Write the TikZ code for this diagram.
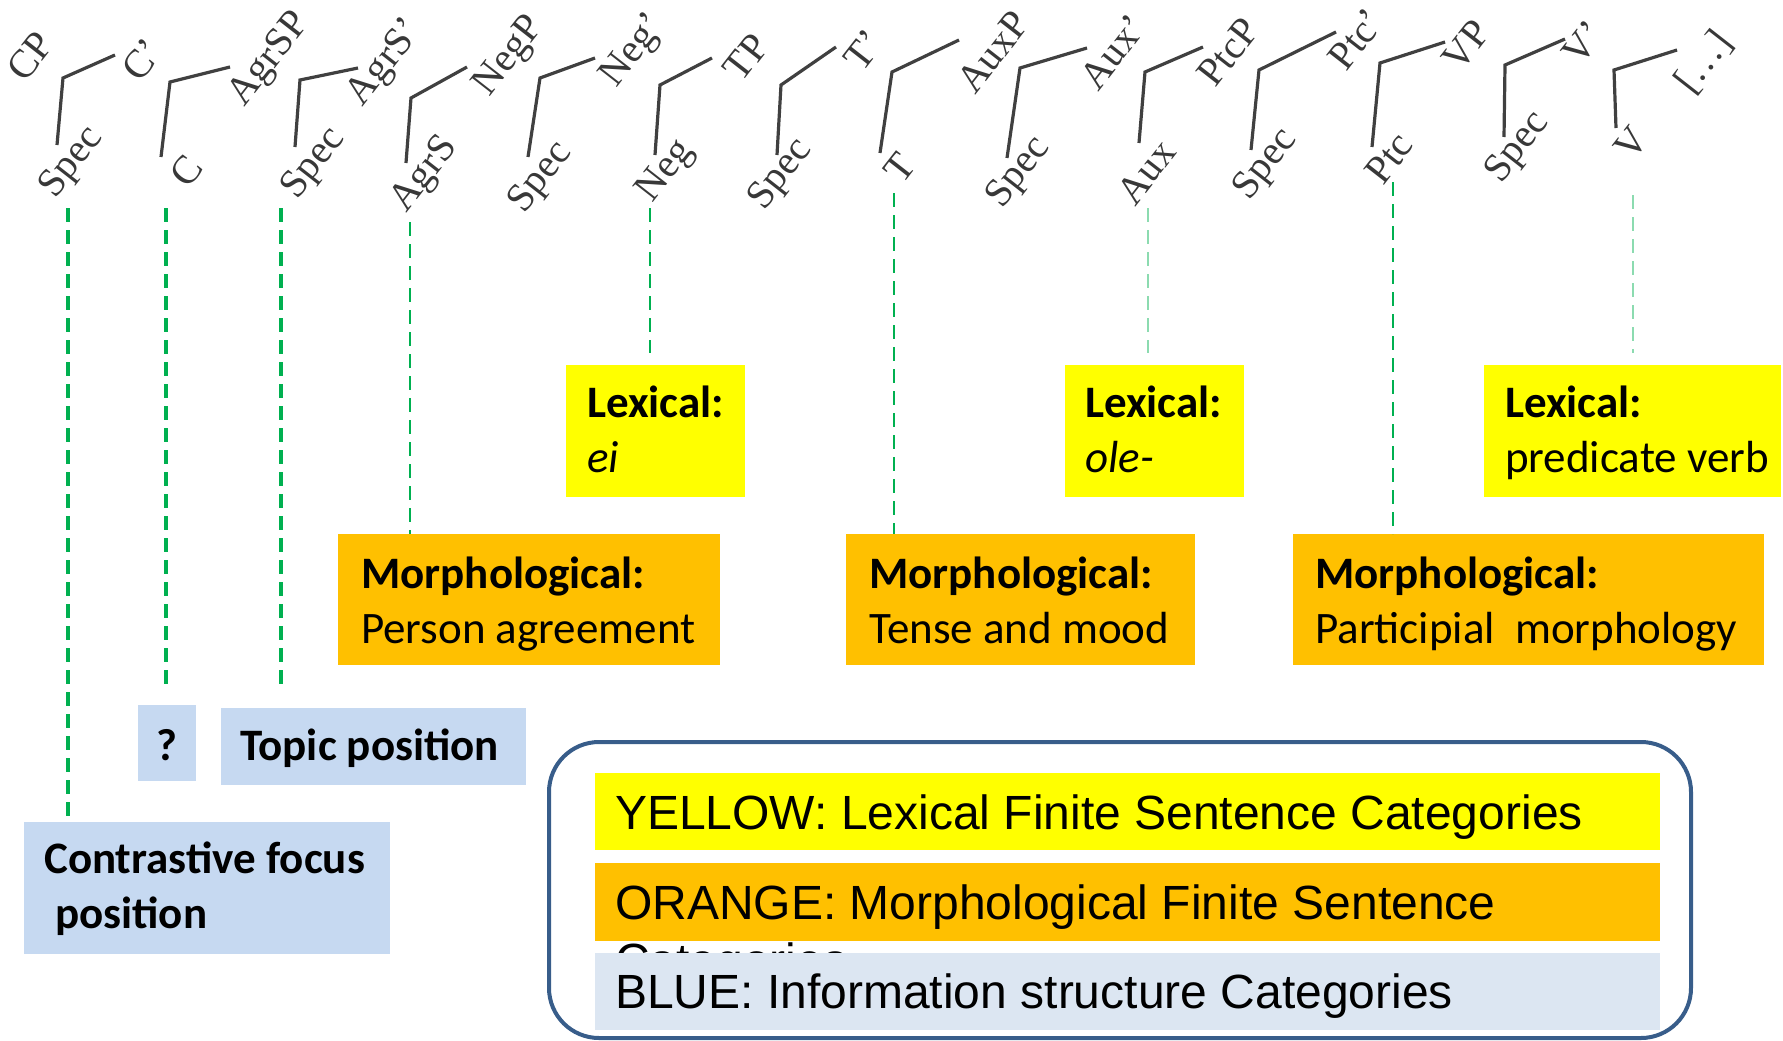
\documentclass[tikz,border=0pt]{standalone}
\usepackage{fontspec}
\setmainfont{Liberation Serif}
\newfontfamily\boxfont{Carlito}
\newfontfamily\legfont{Liberation Sans}
\definecolor{lexyellow}{RGB}{255,255,0}
\definecolor{morphorange}{RGB}{255,192,0}
\definecolor{infoblue}{RGB}{198,217,241}
\definecolor{legblue}{RGB}{220,230,242}
\definecolor{legborder}{RGB}{56,93,138}
\definecolor{guide}{RGB}{0,176,80}
\begin{document}
\begin{tikzpicture}[x=1pt,y=-1pt,
  treelab/.style={font=\fontsize{40}{40}\selectfont, text=black!78, rotate=52, inner sep=0pt},
  branch/.style={draw=black!75, line width=3.2pt},
  guideline/.style={draw=guide, line width=3.2pt, dash pattern=on 14pt off 8pt},
  thinguide/.style={guideline, line width=2.6pt},
  faintguide/.style={thinguide, draw opacity=0.45},
  catbox/.style={anchor=north west, inner sep=0pt, outer sep=0pt},
  boxtext/.style={anchor=base west, inner sep=0pt, font=\boxfont\fontsize{45}{54}\selectfont},
  legtext/.style={anchor=base west, inner sep=0pt, font=\legfont\fontsize{48}{58}\selectfont},
]
\useasboundingbox (0,0) rectangle (1783,1041);

% ---- rotated syntactic spine ----
\node[treelab] (cp)    at (30,56)   {CP};
\node[treelab] (spec1) at (72,163)  {Spec};
\draw[branch] (57,145) -- (63,78) -- (115,55);
\node[treelab] (cbar)  at (142,60)  {C'};
\node[treelab] (chead) at (186,171) {C};
\draw[branch] (161,157) -- (170,82) -- (230,67);
\node[treelab] (agrsp) at (270,60)  {AgrSP};
\node[treelab] (spec2) at (314,164) {Spec};
\draw[branch] (295,147) -- (300,80) -- (358,68);
\node[treelab] (agrsbar) at (386,63) {AgrS'};
\node[treelab] (agrs)  at (425,175) {AgrS};
\draw[branch] (406,163) -- (411,98) -- (467,67);
\node[treelab] (negp)  at (510,57)  {NegP};
\node[treelab] (spec3) at (541,178) {Spec};
\draw[branch] (528,157) -- (540,78) -- (595,58);
\node[treelab] (negbar) at (634,51) {Neg'};
\node[treelab] (neg)   at (666,172) {Neg};
\draw[branch] (655,155) -- (660,85) -- (712,58);
\node[treelab] (tp)    at (746,57)  {TP};
\node[treelab] (spec4) at (781,175) {Spec};
\draw[branch] (777,155) -- (781,85) -- (836,47);
\node[treelab] (tbar)  at (864,50)  {T'};
\node[treelab] (thead) at (900,168) {T};
\draw[branch] (880,153) -- (892,72) -- (959,40);
\node[treelab] (auxp)  at (993,52)  {AuxP};
\node[treelab] (spec5) at (1019,173) {Spec};
\draw[branch] (1007,158) -- (1020,68) -- (1087,48);
\node[treelab] (auxbar) at (1113,52) {Aux'};
\node[treelab] (aux)   at (1146,172) {Aux};
\draw[branch] (1139,143) -- (1145,72) -- (1203,47);
\node[treelab] (ptcp)  at (1228,52) {PtcP};
\node[treelab] (spec6) at (1266,165) {Spec};
\draw[branch] (1251,150) -- (1259,70) -- (1336,32);
\node[treelab] (ptcbar) at (1356,39) {Ptc'};
\node[treelab] (ptc)   at (1389,158) {Ptc};
\draw[branch] (1372,147) -- (1380,63) -- (1445,42);
\node[treelab] (vp)    at (1466,45) {VP};
\node[treelab] (spec7) at (1518,148) {Spec};
\draw[branch] (1504,137) -- (1505,65) -- (1565,39);
\node[treelab] (vbar)  at (1583,43) {V'};
\node[treelab] (vhead) at (1631,143) {V};
\draw[branch] (1616,128) -- (1614,70) -- (1677,50);
\node[treelab] (rest)  at (1704,62) {[…]};

% ---- category boxes ----
\node[catbox, fill=lexyellow, minimum width=179pt, minimum height=132pt] (lexA) at (566,365) {};
\node[boxtext] (lexA1) at (587,417) {\bfseries Lexical:};
\node[boxtext] (lexA2) at (587,472) {\itshape ei};
\node[catbox, fill=lexyellow, minimum width=179pt, minimum height=132pt] (lexB) at (1065,365) {};
\node[boxtext] (lexB1) at (1085,417) {\bfseries Lexical:};
\node[boxtext] (lexB2) at (1085,472) {\itshape ole-};
\node[catbox, fill=lexyellow, minimum width=297pt, minimum height=132pt] (lexC) at (1484,365) {};
\node[boxtext] (lexC1) at (1505,417) {\bfseries Lexical:};
\node[boxtext] (lexC2) at (1505,472) {predicate verb};

\node[catbox, fill=morphorange, minimum width=382pt, minimum height=131pt] (morA) at (338,534) {};
\node[boxtext] (morA1) at (361,588) {\bfseries Morphological:};
\node[boxtext] (morA2) at (361,643) {Person agreement};
\node[catbox, fill=morphorange, minimum width=349pt, minimum height=131pt] (morB) at (846,534) {};
\node[boxtext] (morB1) at (869,588) {\bfseries Morphological:};
\node[boxtext] (morB2) at (869,643) {Tense and mood};
\node[catbox, fill=morphorange, minimum width=471pt, minimum height=131pt] (morC) at (1293,534) {};
\node[boxtext] (morC1) at (1315,588) {\bfseries Morphological:};
\node[boxtext] (morC2) at (1315,643) {Participial\ \ morphology};

\node[catbox, fill=infoblue, minimum width=58pt, minimum height=76pt] (qbox) at (138,705) {};
\node[boxtext, anchor=base] (qtext) at (167,760) {\bfseries ?};
\node[catbox, fill=infoblue, minimum width=305pt, minimum height=77pt] (topic) at (221,708) {};
\node[boxtext] (topict) at (240,760) {\bfseries Topic position};
\node[catbox, fill=infoblue, minimum width=366pt, minimum height=132pt] (focus) at (24,822) {};
\node[boxtext] (focus1) at (44,873) {\bfseries Contrastive focus};
\node[boxtext] (focus2) at (55,928) {\bfseries position};

% ---- dashed guides from heads to boxes ----
\coordinate (g1) at (68,208);
\coordinate (g2) at (166,208);  \coordinate (e2) at (166,688);
\coordinate (g3) at (281,208);  \coordinate (e3) at (281,688);
\coordinate (g4) at (410,222);
\coordinate (g5) at (650,208);  \coordinate (e5) at (650,353);
\coordinate (g6) at (894,193);
\coordinate (g7) at (1148,208); \coordinate (e7) at (1148,353);
\coordinate (g8) at (1393,182);
\coordinate (g9) at (1633,195); \coordinate (e9) at (1633,353);
\draw[guideline] (g1) -- (g1 |- focus.north);
\draw[guideline] (g2) -- (e2);
\draw[guideline] (g3) -- (e3);
\draw[thinguide] (g4) -- (g4 |- morA.north);
\draw[thinguide] (g5) -- (e5);
\draw[thinguide] (g6) -- (g6 |- morB.north);
\draw[faintguide] (g7) -- (e7);
\draw[thinguide] (g8) -- (g8 |- morC.north);
\draw[faintguide] (g9) -- (e9);

% ---- legend ----
\node[catbox, draw=legborder, line width=4pt, rounded corners=50pt,
      minimum width=1142pt, minimum height=296pt] (legend) at (549,742) {};
\node[catbox, fill=lexyellow, minimum width=1065pt, minimum height=77pt] (legY) at (595,773) {};
\node[legtext] (legYt) at (615,829) {YELLOW: Lexical Finite Sentence Categories};
\node[catbox, fill=morphorange, minimum width=1065pt, minimum height=78pt] (legO) at (595,863) {};
\node[legtext] (legOt) at (615,919) {ORANGE: Morphological Finite Sentence};
\node[legtext] (legOt2) at (615,977) {Categories};
\node[catbox, fill=legblue, minimum width=1065pt, minimum height=77pt] (legB) at (595,953) {};
\node[legtext] (legBt) at (615,1008) {BLUE: Information structure Categories};
\end{tikzpicture}
\end{document}
